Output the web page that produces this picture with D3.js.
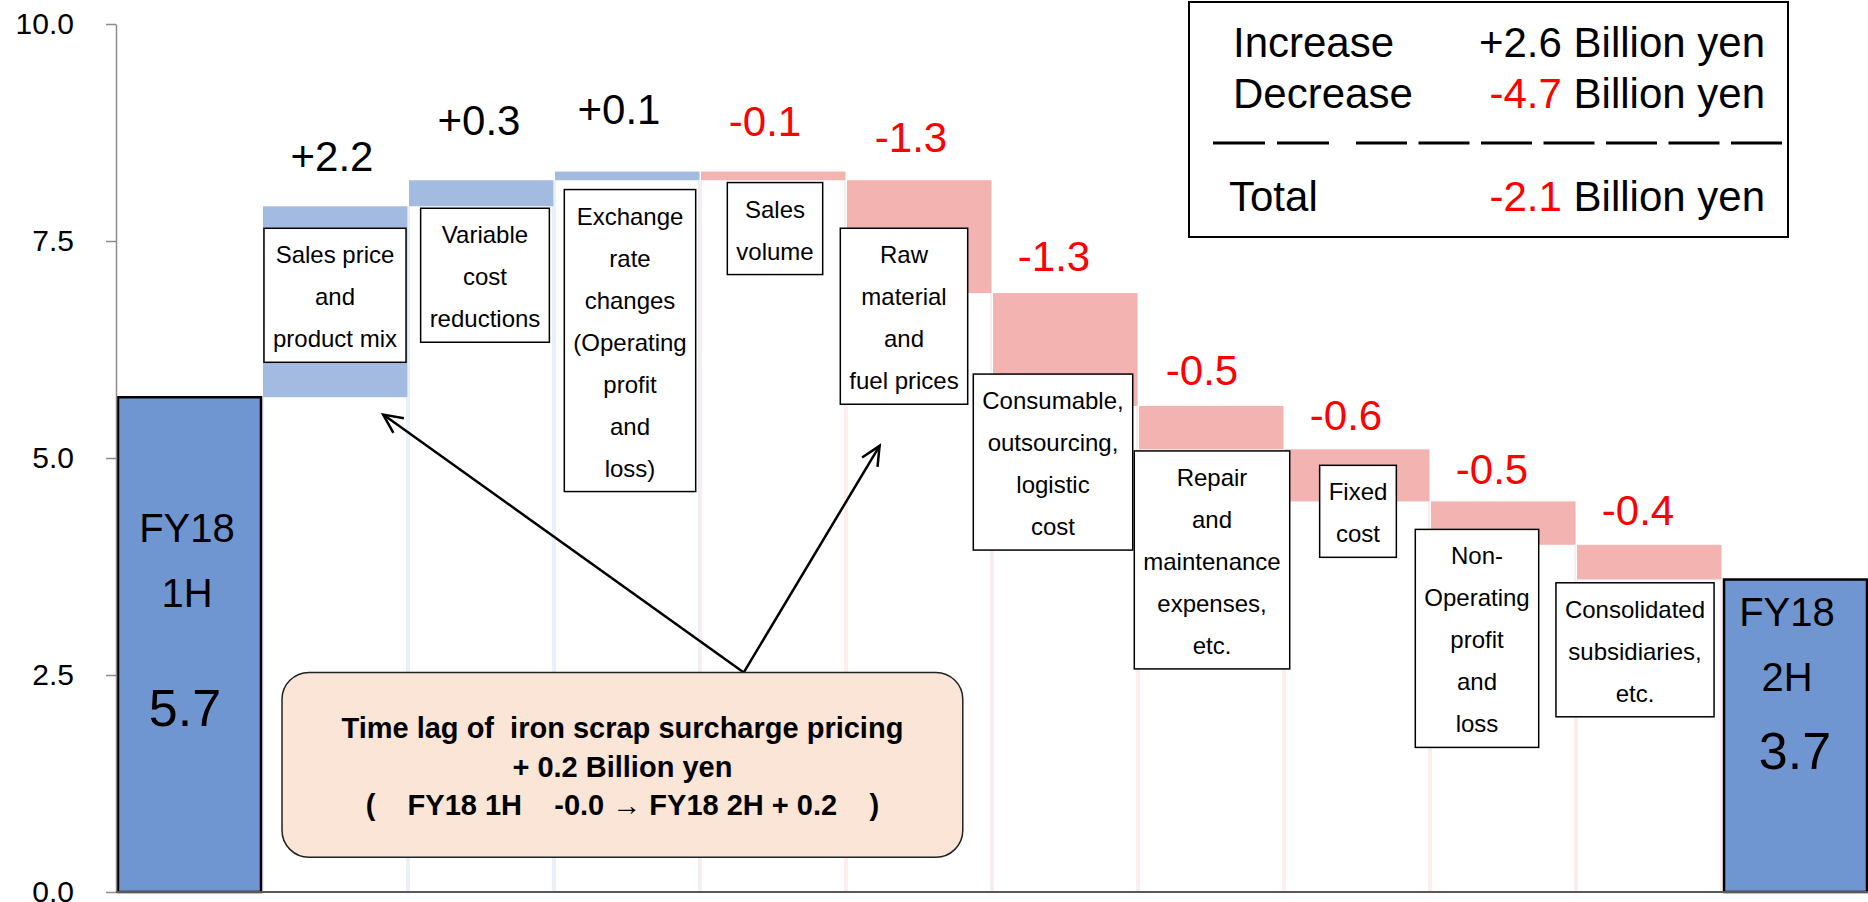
<!DOCTYPE html>
<html>
<head>
<meta charset="utf-8">
<script src="https://cdn.jsdelivr.net/npm/d3@7"></script>
<style>
  html, body { margin: 0; padding: 0; background: #fff; }
  svg { display: block; font-family: "Liberation Sans", Arial, sans-serif; }
</style>
</head>
<body>
<script>
// ---- data ----
var categories = ["FY18 1H", "Sales price", "Variable cost", "Exchange rate", "Sales volume",
    "Raw material", "Consumable", "Repair", "Fixed cost", "Non-Operating", "Consolidated", "FY18 2H"];
var startValue = 5.7;
var deltas = [2.2, 0.3, 0.1, -0.1, -1.3, -1.3, -0.5, -0.6, -0.5, -0.4];
var totalLabels = ["5.7", "3.7"];
var totalNames = [["FY18", "1H"], ["FY18", "2H"]];
var boxLines = [
    ["Sales price", "and", "product mix"],
    ["Variable", "cost", "reductions"],
    ["Exchange", "rate", "changes", "(Operating", "profit", "and", "loss)"],
    ["Sales", "volume"],
    ["Raw", "material", "and", "fuel prices"],
    ["Consumable,", "outsourcing,", "logistic", "cost"],
    ["Repair", "and", "maintenance", "expenses,", "etc."],
    ["Fixed", "cost"],
    ["Non-", "Operating", "profit", "and", "loss"],
    ["Consolidated", "subsidiaries,", "etc."]
];
var yTicks = [0, 2.5, 5, 7.5, 10];
var legendNames = ["Increase", "Decrease", "Total"];
var noteLines = ["Time lag of  iron scrap surcharge pricing", "+ 0.2 Billion yen", "(    FY18 1H    -0.0 \u2192 FY18 2H + 0.2    )"];

// ---- hand placement of the text boxes (layout only) ----
var labelGap = [35, 45, 48, 36, 28, 22, 21, 19, 17, 20];
var labelDx = [-3, -2, -8, -8, -8, -11, -9, -11, -11, -11];
var boxDx = [0, 4, 3, 2, -15, -12, 1, 1, -26, -14];
var boxDy = [22, 28, 18, 11, 48, 81, 45, 16, 28, 38];
var totalTextDy = [[145, 210, 329], [46, 111, 189]];

var width = 1868, height = 902;
var colors = { total: "#7096D1", up: "#A3BBE1", down: "#F2B3B1" };

var svg = d3.select("body").append("svg")
    .attr("width", width)
    .attr("height", height);

var x = d3.scaleBand().domain(categories).range([116, 1868]).padding(0);
var y = d3.scaleLinear().domain([0, 10]).range([892, 24]);
var bw = x.bandwidth();

// build waterfall steps
var steps = [];
var run = startValue;
steps.push({ cat: categories[0], kind: "total", lo: 0, hi: startValue, t: 0 });
deltas.forEach(function(d, i) {
    var s = run;
    run = +(run + d).toFixed(2);
    steps.push({ cat: categories[i + 1], kind: d >= 0 ? "up" : "down", lo: Math.min(s, run), hi: Math.max(s, run), delta: d, i: i });
});
steps.push({ cat: categories[11], kind: "total", lo: 0, hi: run, t: 1 });
var floats = steps.filter(d => d.kind != "total");
var totals = steps.filter(d => d.kind == "total");

// faint edges of the hidden base bars
floats.forEach(function(d) {
    [x(d.cat) + 1, x(d.cat) + bw - 1].forEach(function(xx) {
        svg.append("line")
            .attr("x1", xx).attr("x2", xx)
            .attr("y1", y(d.lo)).attr("y2", y(0))
            .attr("stroke", colors[d.kind])
            .attr("stroke-opacity", 0.3)
            .attr("stroke-width", 1.5);
    });
});

svg.selectAll("rect.float")
    .data(floats)
    .join("rect")
    .attr("class", "float")
    .attr("x", d => x(d.cat) + 1)
    .attr("width", bw - 1.5)
    .attr("y", d => y(d.hi))
    .attr("height", d => y(d.lo) - y(d.hi))
    .attr("fill", d => colors[d.kind]);

svg.selectAll("rect.total")
    .data(totals)
    .join("rect")
    .attr("class", "total")
    .attr("x", d => x(d.cat) + 2)
    .attr("width", bw - 3)
    .attr("y", d => y(d.hi))
    .attr("height", d => y(d.lo) - y(d.hi))
    .attr("fill", colors.total)
    .attr("stroke", "#000")
    .attr("stroke-width", 2.5);

// text inside the total bars
totals.forEach(function(d) {
    var cx = x(d.cat) + bw / 2;
    var top = y(d.hi);
    var dys = totalTextDy[d.t];
    totalNames[d.t].forEach(function(s, k) {
        svg.append("text")
            .attr("x", cx - (d.t ? 8 : 2))
            .attr("y", top + dys[k])
            .attr("text-anchor", "middle")
            .attr("font-size", 40)
            .text(s);
    });
    svg.append("text")
        .attr("x", cx - (d.t ? 0 : 4))
        .attr("y", top + dys[2])
        .attr("text-anchor", "middle")
        .attr("font-size", 52)
        .text(totalLabels[d.t]);
});

// white label boxes
var lineH = 42;
floats.forEach(function(d) {
    var lines = boxLines[d.i];
    var g = svg.append("g");
    var cx = x(d.cat) + bw / 2 + boxDx[d.i];
    var top = y(d.hi) + boxDy[d.i];
    var rect = g.append("rect");
    var maxW = 0;
    lines.forEach(function(s, k) {
        var t = g.append("text")
            .attr("x", cx)
            .attr("y", top + 35 + k * lineH)
            .attr("text-anchor", "middle")
            .attr("font-size", 24)
            .text(s);
        maxW = Math.max(maxW, t.node().getComputedTextLength());
    });
    var bwid = maxW + 18;
    rect.attr("x", cx - bwid / 2)
        .attr("y", top)
        .attr("width", bwid)
        .attr("height", 50 + (lines.length - 1) * lineH)
        .attr("fill", "#fff")
        .attr("stroke", "#000")
        .attr("stroke-width", 1.5);
});

// value labels
var fmt = v => (v > 0 ? "+" : "-") + Math.abs(v).toFixed(1);
svg.selectAll("text.val")
    .data(floats)
    .join("text")
    .attr("class", "val")
    .attr("x", d => x(d.cat) + bw / 2 + labelDx[d.i])
    .attr("y", d => y(d.hi) - labelGap[d.i])
    .attr("text-anchor", "middle")
    .attr("font-size", 42)
    .attr("fill", d => d.delta > 0 ? "#000" : "#FF0000")
    .text(d => fmt(d.delta));

// annotation arrows and box
svg.append("defs").append("marker")
    .attr("id", "head")
    .attr("markerUnits", "userSpaceOnUse")
    .attr("viewBox", "-24 -14 28 28")
    .attr("markerWidth", 28).attr("markerHeight", 28)
    .attr("refX", 0).attr("refY", 0)
    .attr("orient", "auto")
    .append("path")
    .attr("d", "M-19,-9 L0,0 L-19,9")
    .attr("fill", "none")
    .attr("stroke", "#000")
    .attr("stroke-width", 2.5);

var noteX0 = x(categories[1]) + 0.137 * bw;
var noteX1 = x(categories[5]) + 0.8 * bw;
var noteY0 = y(2.53), noteY1 = y(0.4);
var apex = [x(categories[4]) + 0.3 * bw, noteY0];
var targets = [[x(categories[1]) + 0.83 * bw, y(5.5)], [x(categories[5]) + 0.23 * bw, y(5.14)]];
targets.forEach(function(t) {
    svg.append("line")
        .attr("x1", apex[0]).attr("y1", apex[1])
        .attr("x2", t[0]).attr("y2", t[1])
        .attr("stroke", "#000")
        .attr("stroke-width", 2.5)
        .attr("marker-end", "url(#head)");
});

svg.append("rect")
    .attr("x", noteX0).attr("y", noteY0)
    .attr("width", noteX1 - noteX0).attr("height", noteY1 - noteY0)
    .attr("rx", 27).attr("ry", 27)
    .attr("fill", "#FBE5D6")
    .attr("stroke", "#222")
    .attr("stroke-width", 1.5);
noteLines.forEach(function(s, k) {
    svg.append("text")
        .attr("x", (noteX0 + noteX1) / 2)
        .attr("y", 738 + k * 38.5)
        .attr("text-anchor", "middle")
        .attr("font-size", 29)
        .attr("font-weight", "bold")
        .style("white-space", "pre")
        .text(s);
});

// summary box
var upSum = d3.sum(deltas.filter(d => d > 0));
var downSum = d3.sum(deltas.filter(d => d < 0));
var legendVals = [upSum, downSum, upSum + downSum];
var legendY = [57, 108, 211];
svg.append("rect")
    .attr("x", 1189).attr("y", 2)
    .attr("width", 599).attr("height", 235)
    .attr("fill", "#fff")
    .attr("stroke", "#000")
    .attr("stroke-width", 2);
legendNames.forEach(function(s, k) {
    svg.append("text")
        .attr("x", k == 2 ? 1229 : 1233)
        .attr("y", legendY[k])
        .attr("font-size", 42)
        .text(s);
    var t = svg.append("text")
        .attr("x", 1765)
        .attr("y", legendY[k])
        .attr("text-anchor", "end")
        .attr("font-size", 42)
        .style("white-space", "pre");
    t.append("tspan")
        .attr("fill", legendVals[k] > 0 ? "#000" : "#FF0000")
        .text(fmt(legendVals[k]));
    t.append("tspan").text(" Billion yen");
});
svg.append("line")
    .attr("x1", 1213).attr("x2", 1329).attr("y1", 143).attr("y2", 143)
    .attr("stroke", "#000").attr("stroke-width", 3)
    .attr("stroke-dasharray", "52 12");
svg.append("line")
    .attr("x1", 1356).attr("x2", 1784).attr("y1", 143).attr("y2", 143)
    .attr("stroke", "#000").attr("stroke-width", 3)
    .attr("stroke-dasharray", "51 11.5");

// axes
var yAxis = svg.append("g")
    .attr("transform", "translate(116,0)")
    .call(d3.axisLeft(y).tickValues(yTicks).tickFormat(d3.format(".1f")).tickSize(10).tickSizeOuter(0).tickPadding(32));
yAxis.select(".domain").attr("stroke", "#8C8C8C").attr("stroke-width", 1.5);
yAxis.selectAll(".tick line").attr("stroke", "#8C8C8C").attr("stroke-width", 1.5);
yAxis.selectAll(".tick text")
    .attr("font-size", 30)
    .attr("font-family", "Liberation Sans, Arial, sans-serif")
    .attr("fill", "#000");

svg.append("line")
    .attr("x1", 116).attr("x2", 1868)
    .attr("y1", y(0)).attr("y2", y(0))
    .attr("stroke", "#595959")
    .attr("stroke-width", 2);
</script>
</body>
</html>
